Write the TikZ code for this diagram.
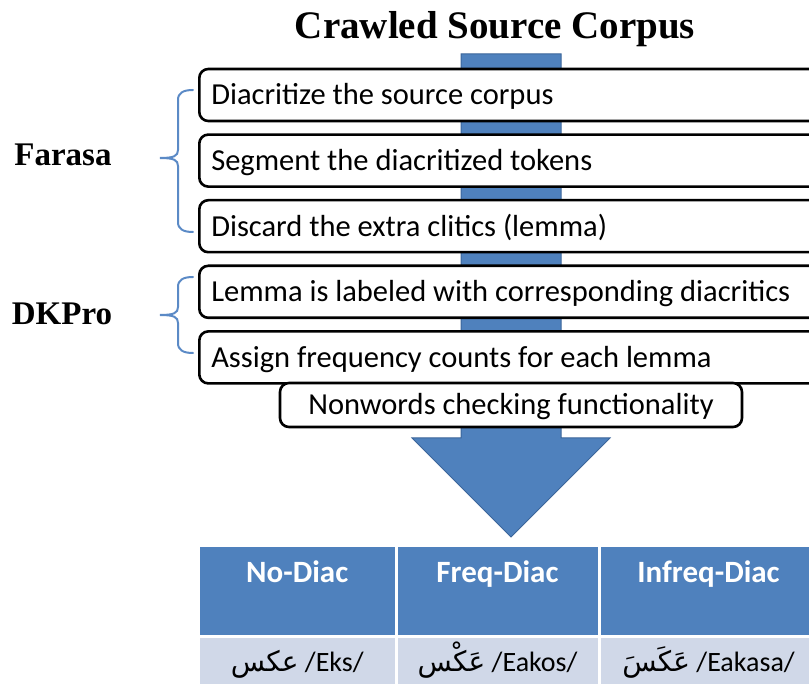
\documentclass[tikz,border=0pt]{standalone}
\usepackage{fontspec}
\setmainfont{Carlito}
\newfontfamily\labelfont{Liberation Serif}
\newfontfamily\arabicfont[Script=Arabic]{DejaVu Sans}
\TeXXeTstate=1
\usetikzlibrary{positioning}
\definecolor{officeblue}{HTML}{4F81BD}
\definecolor{arrowedge}{HTML}{3B659A}
\definecolor{rowblue}{HTML}{D0D8E8}
\definecolor{bracecol}{HTML}{5B8AC6}
\tikzset{
    stepbox/.style={
        draw, line width=2.6pt, rounded corners=9pt, fill=white, minimum height=52pt,
        inner xsep=12pt, inner ysep=0pt, text height=21pt, text depth=1pt,
        font=\fontsize{30.5}{34}\selectfont
    },
    widebox/.style={stepbox, anchor=west, text width=618pt, align=flush left},
    toolname/.style={font=\labelfont\bfseries\fontsize{33}{36}\selectfont},
    toolbrace/.style={draw=bracecol, line width=2pt, line cap=round},
    headcell/.style={
        fill=officeblue, draw=white, line width=3pt, inner sep=0pt, outer sep=0pt,
        text height=36.5pt, text depth=54.5pt, text=white, font=\bfseries\fontsize{31}{34}\selectfont
    },
    rowcell/.style={
        fill=rowblue, draw=white, line width=3pt, inner sep=0pt, outer sep=0pt,
        text height=35pt, text depth=18pt, font=\fontsize{28}{30}\selectfont
    }
}
% brace at the left of the steps: top, tip, bottom
\newcommand{\toolbracepath}[3]{%
    \draw[toolbrace] (193,#1) .. controls (183,#1) and (178,#1+3) .. (178,#1+10)
        -- (178,#2-8) .. controls (178,#2-2) and (174,#2) .. (160,#2)
        .. controls (174,#2) and (178,#2+2) .. (178,#2+8)
        -- (178,#3-10) .. controls (178,#3-3) and (183,#3) .. (193,#3);
}
\begin{document}
\begin{tikzpicture}[x=1pt, y=-1pt, node distance=11pt]
    \clip (0,0) rectangle (809,684);
    % big arrow behind the steps
    \filldraw[fill=officeblue, draw=arrowedge, line width=1pt]
        (461,54) -- (561,54) -- (561,438) -- (610,438) -- (511,537) -- (412,438) -- (461,438) -- cycle;

    \node[font=\labelfont\bfseries\fontsize{39}{42}\selectfont] (corpus) at (495,29) {Crawled Source Corpus};

    \node[widebox] (diac) at (198,95) {Diacritize the source corpus};
    \node[widebox, below=of diac] (segment) {Segment the diacritized tokens};
    \node[widebox, below=of segment] (discard) {Discard the extra clitics (lemma)};
    \node[widebox, below=of discard] (lemma) {Lemma is labeled with corresponding diacritics};
    \node[widebox, below=of lemma] (freqcount) {Assign frequency counts for each lemma};
    \node[stepbox, minimum height=44pt, minimum width=462pt] (nonwords) at (511,405) {Nonwords checking functionality};

    % tools
    \node[toolname] (farasa) at (63,155) {Farasa};
    \node[toolname] (dkpro) at (62,314) {DKPro};
    \toolbracepath{90}{158}{232}
    \toolbracepath{277}{315}{353}

    % result table
    \node[headcell, minimum width=197.5pt, anchor=north west] (hnodiac) at (198.5,545.5) {No-Diac};
    \node[headcell, minimum width=203pt, right=0pt of hnodiac] (hfreq) {Freq-Diac};
    \node[headcell, minimum width=219pt, right=0pt of hfreq] (hinfreq) {Infreq-Diac};
    \node[rowcell, minimum width=197.5pt, below=0pt of hnodiac] (rnodiac) {{\arabicfont\beginR عكس\endR} /Eks/};
    \node[rowcell, minimum width=203pt, below=0pt of hfreq] (rfreq) {{\arabicfont\beginR عَكْس\endR} /Eakos/};
    \node[rowcell, minimum width=219pt, below=0pt of hinfreq] (rinfreq) {{\arabicfont\beginR عَكَسَ\endR} /Eakasa/};
\end{tikzpicture}
\end{document}
